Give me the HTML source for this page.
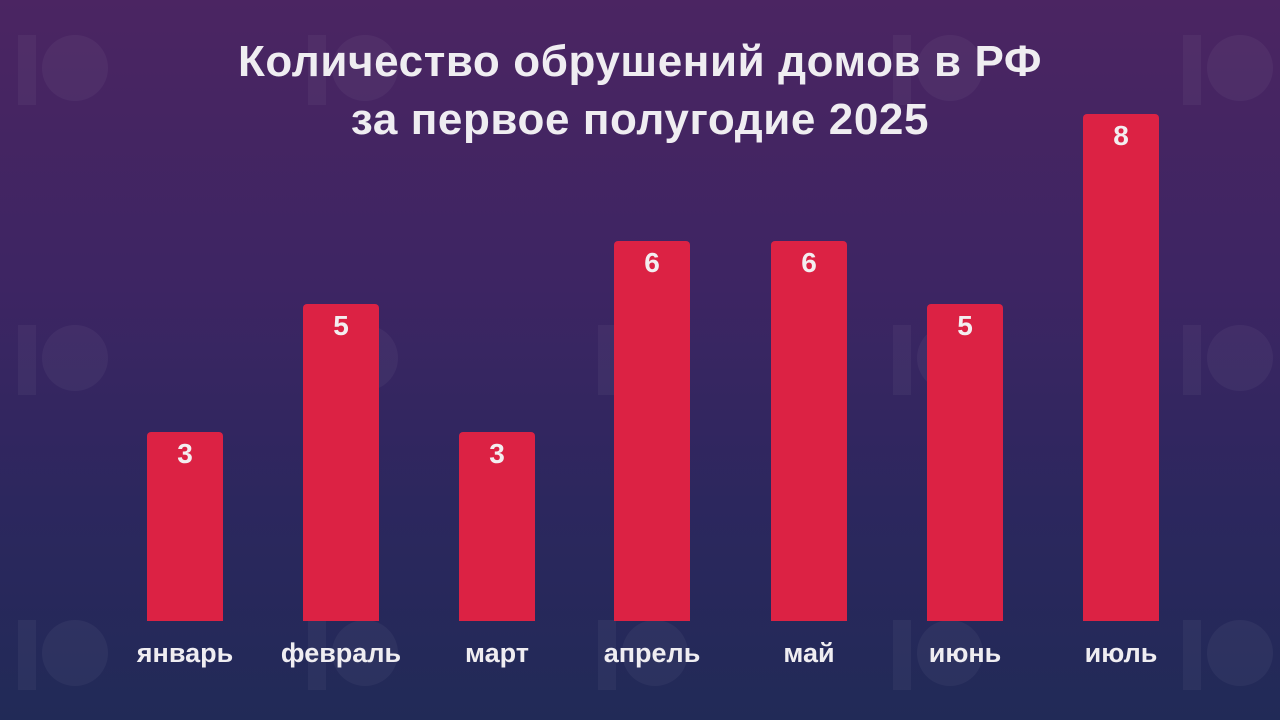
<!DOCTYPE html>
<html><head><meta charset="utf-8"><style>
body{margin:0;width:1280px;height:720px;overflow:hidden;font-family:"Liberation Sans",sans-serif;}
#c{position:relative;width:1280px;height:720px;background:linear-gradient(180deg,#4b2562 0%,#3d2563 40%,#2c275e 70%,#212a57 100%);}
.t{position:absolute;left:0;width:1280px;text-align:center;color:#efedf1;font-weight:bold;font-size:44px;letter-spacing:0.6px;}
.b{position:absolute;width:76px;background:#dc2244;border-radius:4px 4px 0 0;bottom:99px;}
.b span{display:block;text-align:center;color:#f3eef0;font-weight:bold;font-size:28px;margin-top:6px;}
.l{position:absolute;top:638px;width:160px;text-align:center;color:#efedf1;font-weight:bold;font-size:27px;}
.w{position:absolute;opacity:0.04}
</style></head><body><div id="c">
<svg class="w" style="left:0;top:0" width="1280" height="720">
<g fill="#fff">
<g id="lg"><rect x="18" y="35" width="18" height="70"/><circle cx="75" cy="68" r="33"/></g>
<use href="#lg" x="0" y="290"/><use href="#lg" x="0" y="585"/>
<use href="#lg" x="290" y="0"/><use href="#lg" x="290" y="290"/><use href="#lg" x="290" y="585"/>
<use href="#lg" x="580" y="290"/><use href="#lg" x="580" y="585"/>
<use href="#lg" x="875" y="0"/><use href="#lg" x="875" y="290"/><use href="#lg" x="875" y="585"/>
<use href="#lg" x="1165" y="0"/><use href="#lg" x="1165" y="290"/><use href="#lg" x="1165" y="585"/>
</g></svg>
<div class="t" style="top:37px">Количество обрушений домов в РФ</div>
<div class="t" style="top:95px">за первое полугодие 2025</div>
<div class="b" style="left:147px;height:189px"><span>3</span></div>
<div class="b" style="left:303px;height:317px"><span>5</span></div>
<div class="b" style="left:459px;height:189px"><span>3</span></div>
<div class="b" style="left:614px;height:380px"><span>6</span></div>
<div class="b" style="left:771px;height:380px"><span>6</span></div>
<div class="b" style="left:927px;height:317px"><span>5</span></div>
<div class="b" style="left:1083px;height:507px"><span>8</span></div>
<div class="l" style="left:105px">январь</div>
<div class="l" style="left:261px">февраль</div>
<div class="l" style="left:417px">март</div>
<div class="l" style="left:572px">апрель</div>
<div class="l" style="left:729px">май</div>
<div class="l" style="left:885px">июнь</div>
<div class="l" style="left:1041px">июль</div>
</div></body></html>
